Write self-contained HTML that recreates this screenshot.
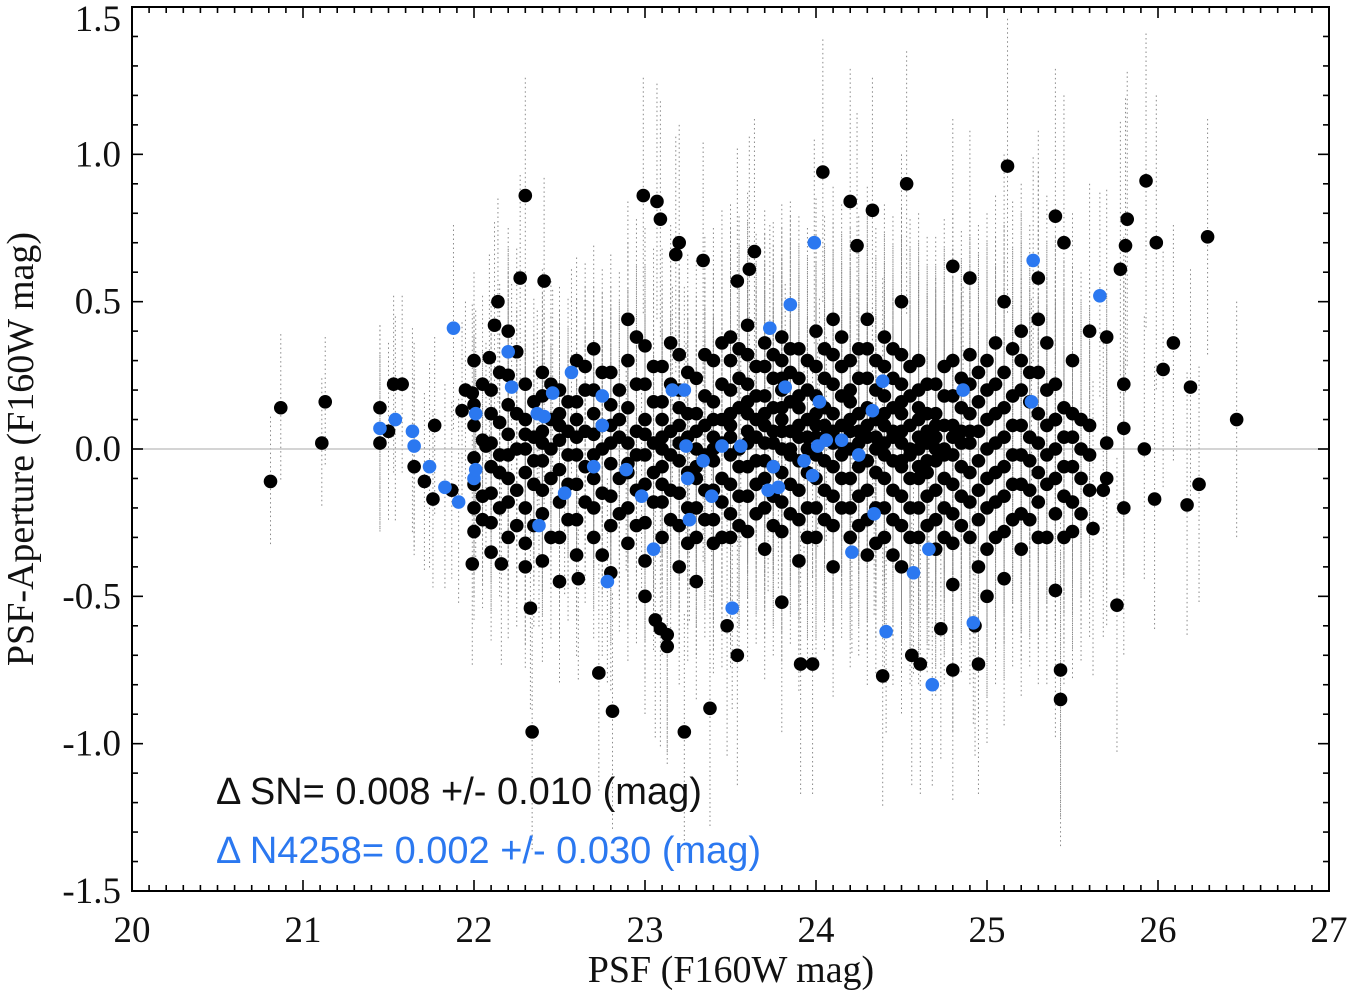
<!DOCTYPE html>
<html><head><meta charset="utf-8">
<style>
html,body{margin:0;padding:0;background:#fff;}
svg{display:block;}
</style></head>
<body>
<svg id="chart" width="1350" height="994" viewBox="0 0 1350 994" xmlns="http://www.w3.org/2000/svg">
<g id="errs"></g>
<line id="zero" stroke="#bbb" stroke-width="1.2"/>
<g id="pts"></g>
<g id="bpts"></g>
<rect x="132" y="7" width="1197" height="884" fill="none" stroke="#000" stroke-width="2"/>
<g id="ticks" stroke="#000" stroke-width="1.6"></g>
<g id="labels" font-family="Liberation Serif, serif" font-size="37" fill="#111"></g>
<text x="731" y="982" text-anchor="middle" font-family="Liberation Serif, serif" font-size="38" fill="#111">PSF (F160W mag)</text>
<text transform="translate(33,449) rotate(-90)" text-anchor="middle" font-family="Liberation Serif, serif" font-size="38" fill="#111">PSF-Aperture (F160W mag)</text>
<text x="216" y="804" font-family="Liberation Sans, sans-serif" font-size="38" fill="#111">Δ SN= 0.008 +/- 0.010 (mag)</text>
<text x="216" y="863" font-family="Liberation Sans, sans-serif" font-size="38" fill="#2b78f0">Δ N4258= 0.002 +/- 0.030 (mag)</text>
</svg>
<script>
const xTicks=[20,21,22,23,24,25,26,27];
const yTicks=[-1.5,-1.0,-0.5,0.0,0.5,1.0,1.5];
const yTickLabels=["-1.5","-1.0","-0.5","0.0","0.5","1.0","1.5"];
// isolated black points [x,y,err]
const blackPoints=[[20.81,-0.11,0.22],[20.87,0.14,0.25],[21.11,0.02,0.22],[21.13,0.16,0.22],[21.45,0.02,0.3],[21.45,0.14,0.28],[21.53,0.22,0.3],[21.58,0.22,0.3],[21.5,0.06,0.3],[21.65,-0.06,0.3],[21.71,-0.11,0.3],[21.77,0.08,0.3],[21.76,-0.17,0.3],[21.87,-0.14,0.3],[21.93,0.13,0.3],[21.95,0.2,0.3],[21.99,0.19,0.3],[22.07,0.01,0.35],[22.09,0.31,0.35],[22.12,0.42,0.35],[22.14,0.5,0.35],[22.27,0.58,0.35],[22.3,0.86,0.4],[22.41,0.57,0.35],[21.99,-0.39,0.35],[22.16,-0.39,0.35],[22.33,-0.54,0.35],[22.34,-0.96,0.4],[22.61,-0.44,0.35],[22.73,-0.76,0.4],[22.81,-0.89,0.4],[22.99,0.86,0.4],[23.07,0.84,0.4],[23.09,0.78,0.4],[23.2,0.7,0.4],[23.18,0.66,0.4],[23.34,0.64,0.4],[23.06,-0.58,0.4],[23.09,-0.61,0.4],[23.13,-0.63,0.4],[23.13,-0.67,0.4],[23.23,-0.96,0.4],[23.38,-0.88,0.4],[23.54,-0.7,0.45],[23.48,-0.6,0.45],[23.54,0.57,0.45],[23.61,0.61,0.45],[23.64,0.67,0.45],[23.8,-0.52,0.45],[23.91,-0.73,0.45],[23.98,-0.73,0.45],[24.04,0.94,0.45],[24.2,0.84,0.45],[24.24,0.69,0.45],[24.33,0.81,0.45],[24.53,0.9,0.45],[24.39,-0.77,0.45],[24.56,-0.7,0.45],[24.61,-0.73,0.45],[24.73,-0.61,0.45],[24.8,-0.75,0.45],[24.95,-0.73,0.45],[24.93,-0.6,0.45],[25.12,0.96,0.5],[25.4,0.79,0.5],[25.45,0.7,0.5],[25.43,-0.85,0.5],[25.43,-0.75,0.5],[25.93,0.91,0.5],[25.99,0.7,0.5],[25.81,0.69,0.5],[25.82,0.78,0.5],[25.78,0.61,0.5],[26.09,0.36,0.4],[26.03,0.27,0.4],[26.19,0.21,0.4],[26.29,0.72,0.4],[26.46,0.1,0.4],[25.92,0.0,0.45],[25.98,-0.17,0.45],[26.17,-0.19,0.45],[26.24,-0.12,0.4],[25.76,-0.53,0.5],[25.68,-0.14,0.5],[25.62,-0.27,0.5]];
// dense cloud: column x, column y values
const cloudX=[22.0,22.1,22.2,22.3,22.4,22.5,22.6,22.7,22.8,22.9,23.0,23.1,23.2,23.3,23.4,23.5,23.6,23.7,23.8,23.9,24.0,24.1,24.2,24.3,24.4,24.5,24.6,24.7,24.8,24.9,25.0,25.1,25.2,25.3,25.4,25.5,25.6,25.7,25.8];
const cloudErr=[0.3,0.3,0.35,0.35,0.35,0.35,0.35,0.35,0.4,0.4,0.4,0.4,0.4,0.4,0.45,0.45,0.45,0.45,0.45,0.45,0.45,0.45,0.45,0.45,0.45,0.5,0.5,0.5,0.5,0.5,0.5,0.5,0.5,0.5,0.5,0.5,0.5,0.5,0.5];
const cloudY=[
[-0.03,0.08,-0.12,-0.2,0.15,-0.28,0.3],
[0.02,-0.06,0.12,-0.15,-0.25,0.2,-0.35],
[0.05,-0.1,0.15,-0.02,-0.3,0.25,-0.18,0.4],
[0,-0.08,0.1,-0.2,0.22,-0.32,0.05,-0.4],
[-0.04,0.06,0.18,-0.14,0.26,-0.38,-0.22,0.02],
[0.03,-0.07,0.12,-0.18,0.2,-0.3,-0.45,0.08],
[-0.02,0.1,-0.12,0.3,-0.24,0.04,-0.36,0.16],
[0.05,-0.1,0.2,-0.2,0.34,-0.3,-0.02,0.12],
[-0.05,0.08,-0.16,0.26,-0.26,0.15,-0.42,0.02],
[0.02,-0.08,0.14,0.3,-0.2,-0.32,0.44,-0.05],
[-0.02,0.1,-0.12,0.22,-0.25,0.05,-0.38,0.35,-0.5],
[0.04,-0.06,0.16,-0.18,0.28,-0.3,0.0,-0.12,0.1],
[-0.04,0.08,-0.15,0.2,-0.26,0.32,0.02,-0.4,0.14],
[0.0,-0.1,0.12,-0.2,0.24,-0.3,0.06,-0.06,-0.45],
[0.04,-0.04,0.16,-0.14,0.3,-0.24,0.1,-0.32,0.0],
[-0.02,0.08,-0.12,0.2,0.3,-0.22,0.38,-0.3,0.12,0.04],
[0.02,0.12,-0.06,0.22,-0.16,0.32,-0.28,0.06,0.16,0.42],
[-0.04,0.08,0.18,-0.1,0.28,-0.2,0.36,0.02,-0.34,0.12],
[0.0,0.1,0.2,-0.08,0.3,-0.18,0.06,-0.28,0.38,0.14,0.24],
[0.04,-0.04,0.14,0.24,-0.14,0.34,-0.24,0.08,-0.38,0.18],
[-0.02,0.08,0.18,-0.1,0.28,-0.2,0.04,0.4,-0.3,0.12],
[0.02,-0.06,0.12,0.22,-0.16,0.32,-0.26,0.06,0.44,-0.4],
[0.0,0.1,-0.1,0.2,-0.2,0.3,0.06,-0.3,0.16],
[0.04,-0.04,0.14,0.24,-0.14,0.34,-0.24,0.08,-0.36,0.44],
[-0.02,0.08,0.18,-0.1,0.28,-0.2,0.02,0.38,-0.3,0.12],
[0.02,-0.06,0.12,0.22,-0.16,0.06,-0.26,0.32,-0.04,0.16,-0.4,0.5],
[0.0,0.1,-0.1,0.2,-0.2,0.04,-0.06,0.14,-0.3,0.3],
[0.04,-0.04,0.12,-0.14,0.22,-0.24,0.0,-0.34,0.08],
[-0.02,0.08,-0.12,0.18,-0.22,0.3,-0.32,0.04,-0.46,0.62],
[0.02,0.12,-0.08,0.22,-0.18,0.32,-0.3,0.06,0.58],
[0.0,-0.1,0.1,0.2,-0.2,0.3,-0.34,-0.5],
[0.04,-0.06,0.14,-0.16,0.26,-0.28,0.5,-0.44],
[-0.02,0.08,-0.12,0.2,-0.22,0.4,-0.34,0.3],
[0.02,-0.08,0.12,-0.18,0.26,0.44,-0.3,0.58],
[0.0,0.1,-0.1,-0.22,0.22,-0.48,0.1],
[0.04,-0.06,0.12,-0.18,-0.28,0.3],
[-0.02,0.08,-0.14,0.4],
[0.02,0.38,-0.1],
[0.22,0.07,-0.2]];
// second interleaved cloud columns
const cloud2X=[22.05,22.15,22.25,22.35,22.45,22.55,22.65,22.75,22.85,22.95,23.05,23.15,23.25,23.35,23.45,23.55,23.65,23.75,23.85,23.95,24.05,24.15,24.25,24.35,24.45,24.55,24.65,24.75,24.85,24.95,25.05,25.15,25.25,25.35,25.45,25.55];
const cloud2Y=[
[0.03,-0.16,0.22,-0.24],
[-0.02,0.09,-0.2,0.26,-0.08],
[0.0,-0.14,0.12,-0.26,0.33],
[0.04,-0.04,0.16,-0.12,-0.26],
[-0.1,0.1,0.22,-0.3,0.0],
[0.06,-0.02,-0.12,0.16,-0.24],
[-0.06,0.06,0.2,-0.18,0.28],
[0.0,-0.15,0.08,0.26,-0.36],
[-0.1,0.04,0.2,-0.22,0.1],
[0.06,-0.02,0.22,-0.14,-0.26,0.38],
[0.02,-0.08,0.16,-0.18,0.28],
[-0.02,0.06,-0.14,0.22,-0.24,0.36],
[0.04,-0.08,0.12,-0.2,0.26,-0.32],
[-0.02,0.08,0.18,-0.14,0.32,-0.24],
[0.02,-0.1,0.1,0.22,-0.18,-0.3,0.36],
[0.0,-0.06,0.14,0.24,-0.16,0.34,-0.26],
[-0.04,0.04,0.18,-0.12,0.28,-0.22,0.1],
[0.02,0.14,-0.06,0.24,-0.16,0.32,-0.26,0.06],
[-0.02,0.06,0.16,-0.12,0.26,-0.22,0.34,0.0],
[0.0,0.1,-0.08,0.2,-0.2,0.3,0.04,-0.3],
[0.04,-0.04,0.14,0.24,-0.14,0.34,-0.24,0.08],
[-0.02,0.08,0.18,-0.1,0.28,-0.2,0.02,0.38],
[0.02,-0.06,0.12,0.24,-0.16,0.34,-0.26,0.06],
[0.0,0.1,-0.08,0.2,-0.2,0.3,0.04,-0.32],
[0.04,-0.04,0.14,-0.14,0.24,-0.24,0.06,0.34,-0.36],
[-0.02,0.08,-0.1,0.18,-0.2,0.0,0.28,-0.3],
[0.02,-0.08,0.12,-0.16,0.22,-0.26,0.06,-0.04],
[-0.02,0.08,-0.1,0.18,-0.2,0.28,-0.3,0.0],
[0.02,-0.06,0.14,-0.16,0.24,-0.26,0.06],
[-0.04,0.06,-0.14,0.16,-0.24,0.26,-0.4],
[0.02,-0.08,0.12,-0.18,0.22,-0.3,0.36],
[-0.02,0.08,-0.12,0.18,-0.24,0.34],
[0.04,-0.04,0.16,-0.14,-0.24,0.26],
[-0.02,0.08,-0.12,0.2,-0.3,0.36],
[0.04,-0.06,0.14,-0.16,-0.3],
[0.0,0.1,-0.1,-0.22]];
// blue N4258 points [x,y]
const bluePoints=[[21.45,0.07],[21.54,0.1],[21.64,0.06],[21.65,0.01],[21.74,-0.06],[21.83,-0.13],[21.91,-0.18],[21.88,0.41],[22.01,0.12],[22.0,-0.1],[22.01,-0.07],[22.2,0.33],[22.22,0.21],[22.37,0.12],[22.41,0.11],[22.46,0.19],[22.38,-0.26],[22.53,-0.15],[22.57,0.26],[22.7,-0.06],[22.75,0.18],[22.75,0.08],[22.78,-0.45],[22.89,-0.07],[22.98,-0.16],[23.05,-0.34],[23.16,0.2],[23.23,0.2],[23.24,0.01],[23.25,-0.1],[23.26,-0.24],[23.34,-0.04],[23.39,-0.16],[23.45,0.01],[23.51,-0.54],[23.56,0.01],[23.73,0.41],[23.75,-0.06],[23.78,-0.13],[23.72,-0.14],[23.82,0.21],[23.85,0.49],[23.93,-0.04],[23.99,0.7],[23.98,-0.09],[24.01,0.01],[24.02,0.16],[24.06,0.03],[24.15,0.03],[24.21,-0.35],[24.25,-0.02],[24.33,0.13],[24.34,-0.22],[24.39,0.23],[24.41,-0.62],[24.57,-0.42],[24.66,-0.34],[24.68,-0.8],[24.86,0.2],[24.92,-0.59],[25.26,0.16],[25.27,0.64],[25.66,0.52]];

const NS="http://www.w3.org/2000/svg";
const X0=132,X1=1329,Y0=891,Y1=7;
function sx(v){return X0+(v-20)/7*(X1-X0);}
function sy(v){return Y0-(v+1.5)/3*(Y0-Y1);}
function mk(tag,attrs,parent){const e=document.createElementNS(NS,tag);for(const k in attrs)e.setAttribute(k,attrs[k]);parent.appendChild(e);return e;}
const errG=document.getElementById('errs'),ptG=document.getElementById('pts'),bG=document.getElementById('bpts');
const tG=document.getElementById('ticks'),lG=document.getElementById('labels');
const z=document.getElementById('zero');
z.setAttribute('x1',X0);z.setAttribute('x2',X1);z.setAttribute('y1',sy(0));z.setAttribute('y2',sy(0));

function errBar(x,y,e){
  const l=mk('line',{x1:sx(x),x2:sx(x),y1:sy(Math.min(1.5,y+e)),y2:sy(Math.max(-1.5,y-e)),stroke:'#8a8a8a','stroke-width':1,'stroke-dasharray':'1.5,3'},errG);
  
  
}
function dot(x,y,col,g,name){
  const c=mk('circle',{cx:sx(x),cy:sy(y),r:6.8,fill:col},g);
  
  
}
const allBlack=[];
blackPoints.forEach(p=>allBlack.push(p));
cloudX.forEach((cx,i)=>cloudY[i].forEach(y=>allBlack.push([cx,y,cloudErr[i]])));
cloud2X.forEach((cx,i)=>cloud2Y[i].forEach(y=>allBlack.push([cx,y,cloudErr[i]])));
allBlack.forEach(p=>errBar(p[0],p[1],p[2]));
bluePoints.forEach(p=>errBar(p[0],p[1],0.35));
allBlack.forEach(p=>dot(p[0],p[1],'#000',ptG,'sn-point'));
bluePoints.forEach(p=>dot(p[0],p[1],'#2b78f0',bG,'n4258-point'));

for(let i=0;i<=70;i++){
  const v=20+i/10,x=sx(v),major=(i%10===0),len=major?11:6;
  const a=mk('line',{x1:x,x2:x,y1:Y0,y2:Y0-len},tG);
  
  
  const b=mk('line',{x1:x,x2:x,y1:Y1,y2:Y1+len},tG);
  
  
}
xTicks.forEach(v=>{
  const t=mk('text',{x:sx(v),y:942,'text-anchor':'middle'},lG);t.textContent=v;
  
  
});
for(let i=0;i<=30;i++){
  const v=-1.5+i/10,y=sy(v),major=(i%5===0),len=major?11:6;
  const a=mk('line',{x1:X0,x2:X0+len,y1:y,y2:y},tG);
  
  
  const b=mk('line',{x1:X1,x2:X1-len,y1:y,y2:y},tG);
  
  
}
yTicks.forEach((v,i)=>{
  const t=mk('text',{x:121,y:Math.max(31,sy(v)+12),'text-anchor':'end'},lG);t.textContent=yTickLabels[i];
  
  
});
</script>
</body></html>
